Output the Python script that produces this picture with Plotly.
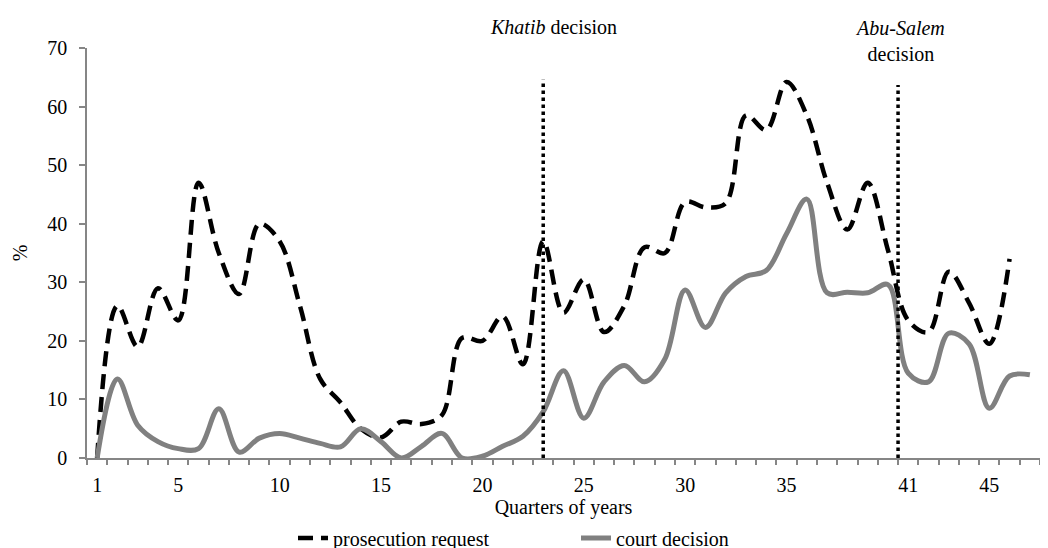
import plotly.graph_objects as go

# ---- data ----
quarters = list(range(1, 48))
prosecution_request = [0, 26, 19, 29, 23.5, 47, 35, 28, 40, 37, 26, 13.5, 9.5, 5, 3.5,
                       6.2, 5.8, 7.3, 20.5, 20, 24.2, 16, 37, 24.8, 30.5, 21.5, 26, 36,
                       35, 43.7, 42.8, 43.5, 58.5, 56, 64.2, 58.5, 47, 39, 47, 35.5, 23.5,
                       21.5, 31.8, 26.5, 19.5, 34, None]
court_decision = [0, 13.5, 5.6, 2.8, 1.6, 1.6, 8.4, 1, 3.4, 4.2, 3.4, 2.5, 1.9, 5, 2.8,
                  0, 2, 4.2, 0, 0.3, 2, 3.7, 7.9, 14.9, 6.8, 13, 15.8, 13, 16.9, 28.7,
                  22.3, 28.2, 31, 32, 38.3, 44.2, 28.2, 28.3, 28.2, 29.6, 14.5, 13, 21.3,
                  19.5, 8.5, 14, 14.2]
tick_values = [1, 5, 10, 15, 20, 25, 30, 35, 41, 45]
tick_labels = ["1", "5", "10", "15", "20", "25", "30", "35", "41", "45"]
# decision markers: (x position, top of line)
khatib_x, khatib_top = 23, 64.6
abusalem_x, abusalem_top = 40.5, 63.7

FONT = "Liberation Serif"
FS = 20
AXIS = "#868686"

W, H, L, R, T, B = 1048, 548, 79, 16, 40, 98
ph = H - T - B


def py(pix):  # pixel row -> paper y
    return (H - B - pix) / ph


fig = go.Figure()
fig.add_trace(go.Scatter(
    x=quarters, y=prosecution_request, name="prosecution request", mode="lines",
    line=dict(color="black", width=4.5, dash="15px,8px", shape="spline", smoothing=1),
    connectgaps=False))
fig.add_trace(go.Scatter(
    x=quarters, y=court_decision, name="court decision", mode="lines",
    line=dict(color="#808080", width=5, shape="spline", smoothing=1)))

for xv, top in [(khatib_x, khatib_top), (abusalem_x, abusalem_top)]:
    fig.add_shape(type="line", xref="x", yref="y", x0=xv, x1=xv, y0=0, y1=top,
                  line=dict(color="black", width=3.5, dash="dot"))

fig.add_annotation(x=khatib_x + 0.5, y=py(19), xref="x", yref="paper", yanchor="middle",
                   text="<i>Khatib</i> decision", showarrow=False,
                   font=dict(family=FONT, size=FS, color="black"))
fig.add_annotation(x=abusalem_x + 0.1, y=py(33), xref="x", yref="paper", yanchor="middle",
                   text="<i>Abu-Salem</i><br>decision", showarrow=False,
                   font=dict(family=FONT, size=FS, color="black"))

fig.update_layout(
    width=W, height=H,
    margin=dict(l=L, r=R, t=T, b=B, autoexpand=False),
    paper_bgcolor="white", plot_bgcolor="white",
    font=dict(family=FONT, size=FS, color="black"),
    showlegend=True,
    legend=dict(orientation="h", x=(285 - L) / (W - L - R), xanchor="left",
                y=py(530), yanchor="middle",
                font=dict(family=FONT, size=FS), entrywidth=238,
                entrywidthmode="pixels", tracegroupgap=0),
    xaxis=dict(range=[0.5, 47.5], showline=True, linecolor=AXIS, linewidth=1.5,
               tickmode="array", tickvals=tick_values, ticktext=tick_labels, ticks="",
               ticklabelstandoff=8, automargin=False,
               showgrid=False, zeroline=False,
               minor=dict(tickmode="array", tickvals=[i + 0.5 for i in range(0, 48)],
                          ticks="outside", ticklen=5, tickcolor=AXIS, tickwidth=1.5,
                          showgrid=False),
               title=dict(text="Quarters of years", standoff=2,
                          font=dict(family=FONT, size=FS))),
    yaxis=dict(range=[0, 70], dtick=10, showline=True, linecolor=AXIS, linewidth=1.5,
               ticks="outside", ticklen=6, tickcolor=AXIS, tickwidth=1.5,
               ticklabelstandoff=8, automargin=False,
               showgrid=False, zeroline=False,
               title=dict(text="%", standoff=14, font=dict(family=FONT, size=FS))),
)

fig.write_html("out.html")
